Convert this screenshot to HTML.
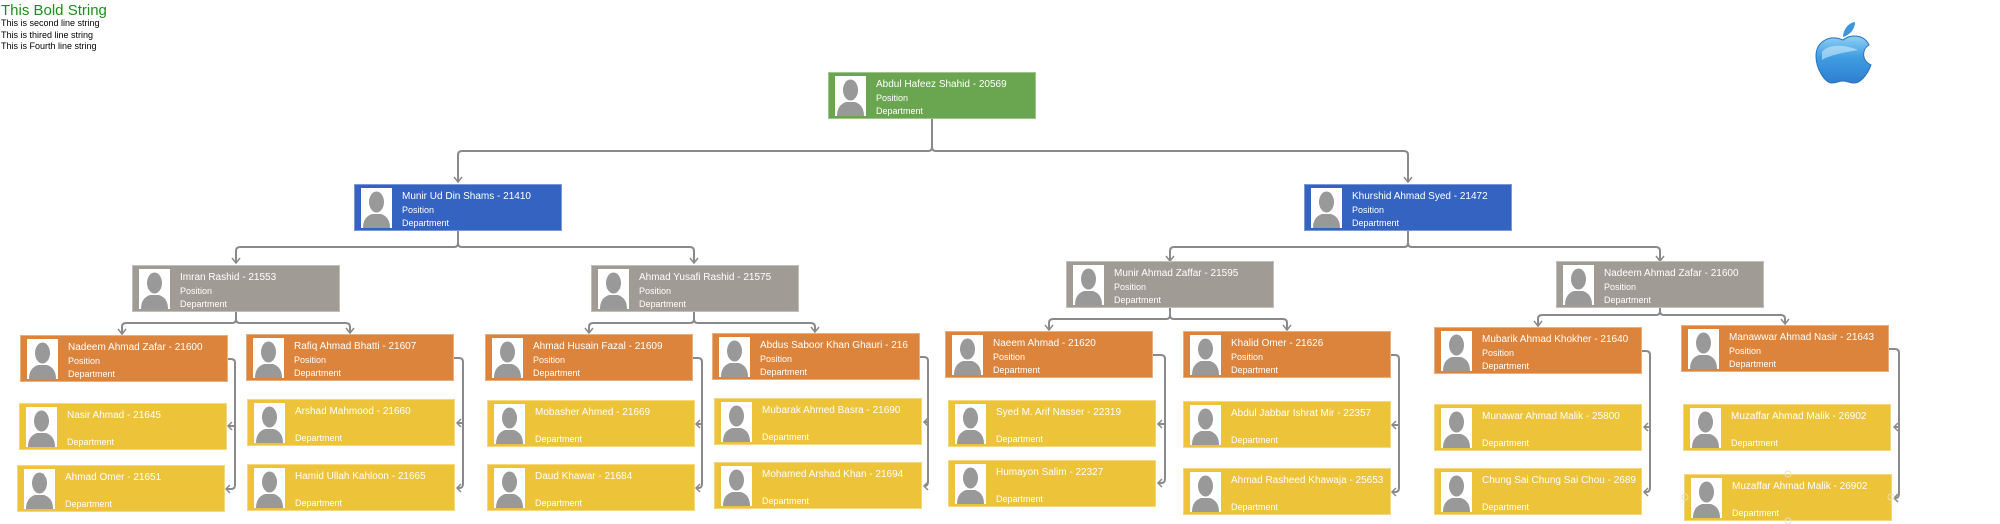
<!DOCTYPE html>
<html><head><meta charset="utf-8"><style>
*{margin:0;padding:0;box-sizing:border-box}
body{width:2000px;height:524px;background:#fff;position:relative;overflow:hidden;font-family:"Liberation Sans",sans-serif}
.b{position:absolute;width:208px;height:47px;color:#fff;overflow:hidden;border:1px solid rgba(255,255,255,.35)}
.o{background:#dc843c}.y{background:#edc33a}.g{background:#a19b96}.bl{background:#3463c1}.gr{background:#6aa64f}
.b svg{position:absolute;left:6px;top:3px}
.b span{position:absolute;left:47px;white-space:nowrap;font-size:10px;line-height:12px}
.n{top:6px}.p{top:19px;font-size:9px!important}.d{top:32px;font-size:9px!important}
.t{position:absolute;left:1px;white-space:nowrap}
</style></head><body>
<svg width="0" height="0" style="position:absolute"><defs><symbol id="ph" viewBox="0 0 31 40"><rect width="31" height="40" fill="#fff"/><ellipse cx="15.5" cy="14" rx="7.5" ry="10.5" fill="#999"/><path d="M2 40 Q2 29 11 26 L20 26 Q29 29 29 40Z" fill="#999"/></symbol></defs></svg>
<div class="t" style="top:2px;font-size:15px;color:#1a8f1a">This Bold String</div>
<div class="t" style="top:18px;font-size:9px;color:#000">This is second line string</div>
<div class="t" style="top:30px;font-size:9px;color:#000">This is thired line string</div>
<div class="t" style="top:41px;font-size:9px;color:#000">This is Fourth line string</div>
<svg style="position:absolute;left:1814px;top:20px" width="60" height="66" viewBox="0 0 60 66"><defs><linearGradient id="ag" x1="0" y1="0" x2="0" y2="1"><stop offset="0" stop-color="#8fd0f5"/><stop offset=".45" stop-color="#3f9de0"/><stop offset="1" stop-color="#2f7fd0"/></linearGradient></defs><path d="M29 20 C36 14 50 14 55 25 C48 29 47 40 57 45 C53 56 46 63 40 63 C35 63 34 61 29 61 C24 61 23 63 18 63 C11 63 2 49 2 36 C2 22 15 14 29 20Z" fill="url(#ag)" stroke="#2a6fb8" stroke-width="1"/><path d="M29 17 C29 10 34 3 41 2 C41 9 36 15 29 17Z" fill="#3d95dc"/><path d="M8 32 C14 24 30 24 44 30 C34 32 18 34 8 40Z" fill="#cdeafb" opacity=".6"/></svg>

<svg style="position:absolute;left:0;top:0" width="2000" height="524" fill="none" stroke="#8a8a8a" stroke-width="2">
<g>
<path d="M932 119V147Q932 151 928 151H462Q458 151 458 155V182M932 147Q932 151 936 151H1404Q1408 151 1408 155V182"/>
<path d="M458 231V243Q458 247 454 247H240Q236 247 236 251V263M458 243Q458 247 462 247H690Q694 247 694 251V263"/>
<path d="M1408 230V243Q1408 247 1404 247H1174Q1170 247 1170 251V261M1408 243Q1408 247 1412 247H1656Q1660 247 1660 251V261"/>
<path d="M236 312V319Q236 323 232 323H126Q122 323 122 327V334M236 319Q236 323 240 323H346Q350 323 350 327V333"/>
<path d="M694 312V319Q694 323 690 323H593Q589 323 589 327V333M694 319Q694 323 698 323H811Q815 323 815 327V332"/>
<path d="M1170 308V315Q1170 319 1166 319H1053Q1049 319 1049 323V330M1170 315Q1170 319 1174 319H1283Q1287 319 1287 323V330"/>
<path d="M1660 308V311Q1660 315 1656 315H1542Q1538 315 1538 319V326M1660 311Q1660 315 1664 315H1781Q1785 315 1785 319V324"/>
<path d="M227 359H231Q235 359 235 363V485Q235 489 231 489H226M235 426H228"/>
<path d="M453 358H459Q463 358 463 362V484Q463 488 459 488H457M463 423H457"/>
<path d="M693 358H698Q702 358 702 362V484Q702 488 698 488H696M702 424H696"/>
<path d="M919 357H924Q928 357 928 361V482Q928 486 924 486H924M928 422H924"/>
<path d="M1153 355H1161Q1165 355 1165 359V479Q1165 483 1161 483H1158M1165 424H1158"/>
<path d="M1390 355H1395Q1399 355 1399 359V488Q1399 492 1395 492H1392M1399 425H1392"/>
<path d="M1642 351H1646Q1650 351 1650 355V488Q1650 492 1646 492H1644M1650 427H1644"/>
<path d="M1889 349H1895Q1899 349 1899 353V494Q1899 498 1895 498H1894M1899 427H1894"/>
</g>
<g stroke-width="1.5">
<path d="M454 177L458 182L462 177M1404 177L1408 182L1412 177M232 258L236 263L240 258M690 258L694 263L698 258M1166 256L1170 261L1174 256M1656 256L1660 261L1664 256M118 329L122 334L126 329M346 328L350 333L354 328M585 328L589 333L593 328M811 327L815 332L819 327M1045 325L1049 330L1053 325M1283 325L1287 330L1291 325M1534 321L1538 326L1542 321M1781 319L1785 324L1789 319"/>
<path d="M232 422L228 426L232 430M230 485L226 489L230 493M461 419L457 423L461 427M461 484L457 488L461 492M700 420L696 424L700 428M700 484L696 488L700 492M928 418L924 422L928 426M928 482L924 486L928 490M1162 420L1158 424L1162 428M1162 479L1158 483L1162 487M1396 421L1392 425L1396 429M1396 488L1392 492L1396 496M1648 423L1644 427L1648 431M1648 488L1644 492L1648 496M1898 423L1894 427L1898 431M1898 494L1894 498L1898 502"/>
</g>
</svg>

<div class="b gr" style="left:828px;top:72px"><svg width="31" height="40"><use href="#ph"/></svg><span class="n">Abdul Hafeez  Shahid  - 20569</span><span class="p">Position</span><span class="d">Department</span></div>
<div class="b bl" style="left:354px;top:184px"><svg width="31" height="40"><use href="#ph"/></svg><span class="n">Munir Ud Din Shams  - 21410</span><span class="p">Position</span><span class="d">Department</span></div>
<div class="b bl" style="left:1304px;top:184px"><svg width="31" height="40"><use href="#ph"/></svg><span class="n">Khurshid Ahmad Syed  - 21472</span><span class="p">Position</span><span class="d">Department</span></div>
<div class="b g" style="left:132px;top:265px"><svg width="31" height="40"><use href="#ph"/></svg><span class="n">Imran  Rashid  - 21553</span><span class="p">Position</span><span class="d">Department</span></div>
<div class="b g" style="left:591px;top:265px"><svg width="31" height="40"><use href="#ph"/></svg><span class="n">Ahmad Yusafi Rashid  - 21575</span><span class="p">Position</span><span class="d">Department</span></div>
<div class="b g" style="left:1066px;top:261px"><svg width="31" height="40"><use href="#ph"/></svg><span class="n">Munir Ahmad Zaffar  - 21595</span><span class="p">Position</span><span class="d">Department</span></div>
<div class="b g" style="left:1556px;top:261px"><svg width="31" height="40"><use href="#ph"/></svg><span class="n">Nadeem Ahmad Zafar  - 21600</span><span class="p">Position</span><span class="d">Department</span></div>

<div class="b o" style="left:20px;top:335px"><svg width="31" height="40"><use href="#ph"/></svg><span class="n">Nadeem Ahmad Zafar  - 21600</span><span class="p">Position</span><span class="d">Department</span></div>
<div class="b o" style="left:246px;top:334px"><svg width="31" height="40"><use href="#ph"/></svg><span class="n">Rafiq Ahmad Bhatti  - 21607</span><span class="p">Position</span><span class="d">Department</span></div>
<div class="b o" style="left:485px;top:334px"><svg width="31" height="40"><use href="#ph"/></svg><span class="n">Ahmad Husain Fazal  - 21609</span><span class="p">Position</span><span class="d">Department</span></div>
<div class="b o" style="left:712px;top:333px"><svg width="31" height="40"><use href="#ph"/></svg><span class="n">Abdus Saboor Khan Ghauri  - 216</span><span class="p">Position</span><span class="d">Department</span></div>
<div class="b o" style="left:945px;top:331px"><svg width="31" height="40"><use href="#ph"/></svg><span class="n">Naeem  Ahmad  - 21620</span><span class="p">Position</span><span class="d">Department</span></div>
<div class="b o" style="left:1183px;top:331px"><svg width="31" height="40"><use href="#ph"/></svg><span class="n">Khalid  Omer  - 21626</span><span class="p">Position</span><span class="d">Department</span></div>
<div class="b o" style="left:1434px;top:327px"><svg width="31" height="40"><use href="#ph"/></svg><span class="n">Mubarik Ahmad Khokher  - 21640</span><span class="p">Position</span><span class="d">Department</span></div>
<div class="b o" style="left:1681px;top:325px"><svg width="31" height="40"><use href="#ph"/></svg><span class="n">Manawwar Ahmad Nasir  - 21643</span><span class="p">Position</span><span class="d">Department</span></div>

<div class="b y" style="left:19px;top:403px"><svg width="31" height="40"><use href="#ph"/></svg><span class="n">Nasir  Ahmad  - 21645</span><span class="d">Department</span></div>
<div class="b y" style="left:17px;top:465px"><svg width="31" height="40"><use href="#ph"/></svg><span class="n">Ahmad  Omer  - 21651</span><span class="d">Department</span></div>
<div class="b y" style="left:247px;top:399px"><svg width="31" height="40"><use href="#ph"/></svg><span class="n">Arshad  Mahmood  - 21660</span><span class="d">Department</span></div>
<div class="b y" style="left:247px;top:464px"><svg width="31" height="40"><use href="#ph"/></svg><span class="n">Hamid Ullah Kahloon  - 21665</span><span class="d">Department</span></div>
<div class="b y" style="left:487px;top:400px"><svg width="31" height="40"><use href="#ph"/></svg><span class="n">Mobasher  Ahmed  - 21669</span><span class="d">Department</span></div>
<div class="b y" style="left:487px;top:464px"><svg width="31" height="40"><use href="#ph"/></svg><span class="n">Daud  Khawar  - 21684</span><span class="d">Department</span></div>
<div class="b y" style="left:714px;top:398px"><svg width="31" height="40"><use href="#ph"/></svg><span class="n">Mubarak Ahmed Basra  - 21690</span><span class="d">Department</span></div>
<div class="b y" style="left:714px;top:462px"><svg width="31" height="40"><use href="#ph"/></svg><span class="n">Mohamed Arshad Khan  - 21694</span><span class="d">Department</span></div>
<div class="b y" style="left:948px;top:400px"><svg width="31" height="40"><use href="#ph"/></svg><span class="n">Syed M. Arif Nasser  - 22319</span><span class="d">Department</span></div>
<div class="b y" style="left:948px;top:460px"><svg width="31" height="40"><use href="#ph"/></svg><span class="n">Humayon  Salim  - 22327</span><span class="d">Department</span></div>
<div class="b y" style="left:1183px;top:401px"><svg width="31" height="40"><use href="#ph"/></svg><span class="n">Abdul Jabbar Ishrat Mir  - 22357</span><span class="d">Department</span></div>
<div class="b y" style="left:1183px;top:468px"><svg width="31" height="40"><use href="#ph"/></svg><span class="n">Ahmad Rasheed Khawaja  - 25653</span><span class="d">Department</span></div>
<div class="b y" style="left:1434px;top:404px"><svg width="31" height="40"><use href="#ph"/></svg><span class="n">Munawar Ahmad Malik  - 25800</span><span class="d">Department</span></div>
<div class="b y" style="left:1434px;top:468px"><svg width="31" height="40"><use href="#ph"/></svg><span class="n">Chung Sai Chung Sai Chou  - 2689</span><span class="d">Department</span></div>
<div class="b y" style="left:1683px;top:404px"><svg width="31" height="40"><use href="#ph"/></svg><span class="n">Muzaffar Ahmad Malik  - 26902</span><span class="d">Department</span></div>
<div class="b y" style="left:1684px;top:474px"><svg width="31" height="40"><use href="#ph"/></svg><span class="n">Muzaffar Ahmad Malik  - 26902</span><span class="d">Department</span></div>
<svg style="position:absolute;left:0;top:0" width="2000" height="524" fill="none" stroke="#e8e0c8" stroke-width="1"><circle cx="1788" cy="474" r="3"/><circle cx="1788" cy="521" r="3"/><circle cx="1685" cy="497" r="3"/><circle cx="1891" cy="497" r="3"/></svg>
</body></html>
